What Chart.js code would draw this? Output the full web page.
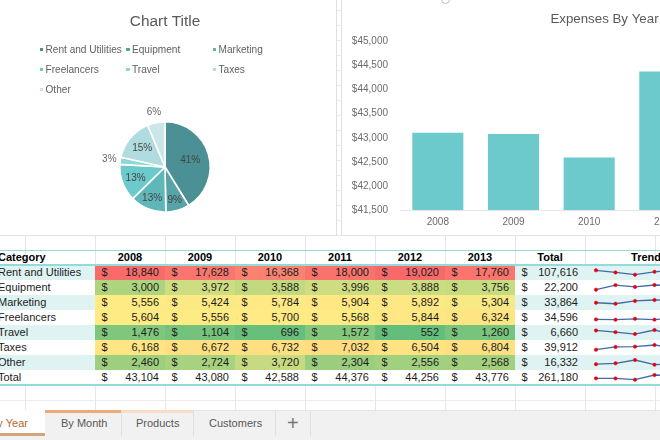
<!DOCTYPE html>
<html><head><meta charset="utf-8">
<script src="https://cdn.jsdelivr.net/npm/chart.js@4"></script>
<style>
html,body{margin:0;padding:0;width:660px;height:440px;overflow:hidden;font-family:"Liberation Sans",Arial,sans-serif}
body{position:relative;background-color:#fff;
 background-image:linear-gradient(to right,#e6e6e6 1px,transparent 1px),linear-gradient(to bottom,#ececec 1px,transparent 1px);
 background-size:70px 15px;background-position:25px 10px}
.abs{position:absolute}
.panel{position:absolute;background:#fff;border:1px solid #e0e0e0;box-sizing:border-box}
canvas{position:absolute;display:block}
.cell{position:absolute;height:15px;line-height:15px;font-size:11px;color:#1c1c1c;white-space:nowrap;box-sizing:border-box}
.head{font-weight:bold;text-align:center;color:#000;font-size:11px}
.teal{position:absolute;left:0;width:660px;height:1.5px;background:#93dadb}
.lg{position:absolute;font-size:10.1px;color:#606060;line-height:14px;white-space:nowrap}
.mk{position:absolute;width:3.5px;height:3.5px}
.tab{position:absolute;top:411px;height:25px;line-height:24px;font-size:11px;color:#585858;box-sizing:border-box;white-space:nowrap}
</style></head><body>
<div class="panel" style="left:-2px;top:-2px;width:339px;height:238px"></div>
<div class="panel" style="left:341px;top:-2px;width:340px;height:238px"></div>
<div class="abs" style="left:441px;top:-5px;width:7px;height:7px;border:1px solid #bbb;border-radius:50%;background:#fff"></div>
<canvas id="pie" width="330" height="235" style="left:0;top:0;width:330px;height:235px"></canvas>
<canvas id="bar" width="542" height="235" style="left:341px;top:0;width:542px;height:235px"></canvas>
<div id="legend"></div>
<div id="table"></div>
<div id="tabs"></div>
<script>
const years = ["2008","2009","2010","2011","2012","2013"];
const categories = ["Rent and Utilities","Equipment","Marketing","Freelancers","Travel","Taxes","Other"];
const rentAndUtilities = [18840,17628,16368,18000,19020,17760];
const equipment = [3000,3972,3588,3996,3888,3756];
const marketing = [5556,5424,5784,5904,5892,5304];
const freelancers = [5604,5556,5700,5568,5844,6324];
const travel = [1476,1104,696,1572,552,1260];
const taxes = [6168,6672,6732,7032,6504,6804];
const other = [2460,2724,3720,2304,2556,2568];
const yearTotals = [43104,43080,42588,44376,44256,43776];
const categoryTotals = [107616,22200,33864,34596,6660,39912,16332];
const piePercents = [41,9,13,13,3,15,6];
const grandTotal = 261180;
const tabNames = ["By Month","Products","Customers"];
const pieColors = ["#4b9094","#57a3a7","#5fb7ba","#6ccacc","#8fd6d8","#b1dcdf","#cae6e9"];
const barColor = "#6ccacc";

const rows = [rentAndUtilities,equipment,marketing,freelancers,travel,taxes,other];
const fmt = n => n.toLocaleString("en-US");

/* ---- pie ---- */
const pieLabels = {
  id:"pieLabels",
  afterDatasetsDraw(chart){
    const ctx = chart.ctx, ds = chart.data.datasets[0];
    const total = ds.data.reduce((a,b)=>a+b,0);
    ctx.save();
    ctx.font = '10px "Liberation Sans"';
    ctx.textAlign = "center"; ctx.textBaseline = "middle";
    chart.getDatasetMeta(0).data.forEach((arc,i)=>{
      const frac = ds.data[i]/total;
      const mid = (arc.startAngle+arc.endAngle)/2;
      const outside = frac<0.07;
      const k = frac>0.3 ? 0.58 : 0.66+0.1*Math.max(0,Math.sin(mid));
      const r = outside ? arc.outerRadius+11 : arc.outerRadius*k;
      ctx.fillStyle = outside ? "#666" : "#444";
      ctx.fillText(piePercents[i]+"%", arc.x+Math.cos(mid)*r, arc.y+Math.sin(mid)*r);
    });
    ctx.restore();
  }
};
new Chart(document.getElementById("pie"),{
  type:"pie",
  data:{labels:categories,datasets:[{data:categoryTotals,backgroundColor:pieColors,borderColor:"#fff",borderWidth:1.6}]},
  options:{responsive:false,animation:false,
    layout:{padding:{bottom:22}},
    plugins:{legend:{display:false},tooltip:{enabled:false},
      title:{display:true,text:"Chart Title",color:"#595959",font:{size:15.4,weight:"normal",family:'"Liberation Sans"'},padding:{top:12.5,bottom:90}}}},
  plugins:[pieLabels]
});

/* ---- legend ---- */
const legendEl = document.getElementById("legend");
categories.forEach((c,i)=>{
  const col = i%3, row = Math.floor(i/3);
  const x = [39.5,126,212.5][col], y = 49.5+row*20;
  legendEl.insertAdjacentHTML("beforeend",
   `<div class="mk" style="left:${x}px;top:${y-1.7}px;background:${pieColors[i]}"></div>`+
   `<div class="lg" style="left:${x+6}px;top:${y-7}px">${c}</div>`);
});

/* ---- bar ---- */
const titleShift = {
  id:"titleShift",
  afterLayout(chart){ chart.titleBlock.left += 14; }
};
new Chart(document.getElementById("bar"),{
  type:"bar",
  data:{labels:years,datasets:[{data:yearTotals,backgroundColor:barColor,barPercentage:0.675,categoryPercentage:1}]},
  options:{responsive:false,animation:false,
    layout:{padding:{right:29,left:0,top:0,bottom:0}},
    plugins:{legend:{display:false},tooltip:{enabled:false},
      title:{display:true,text:"Expenses By Year",color:"#595959",font:{size:13.3,weight:"normal",family:'"Liberation Sans"'},padding:{top:11,bottom:14.5}}},
    scales:{
      x:{grid:{display:false,drawTicks:false},border:{color:"#e6e6e6"},
        ticks:{color:"#6b6b6b",font:{size:10,family:'"Liberation Sans"'},padding:6,maxRotation:0},
        afterFit(s){s.height=25}},
      y:{min:41500,max:45000,grid:{display:false,drawTicks:false},border:{display:false},
        ticks:{stepSize:500,color:"#6b6b6b",font:{size:10,family:'"Liberation Sans"'},padding:12,
          callback:v=>"$"+fmt(v)},
        afterFit(s){s.width=59}}
    }
  },
  plugins:[titleShift]
});

/* ---- table ---- */
const tbl = document.getElementById("table");
const colX = [95,165,235,305,375,445];
function add(html){tbl.insertAdjacentHTML("beforeend",html)}
const sorted = rows.flat().sort((a,b)=>a-b);
const lo = sorted[0], hi = sorted[sorted.length-1];
const med = (sorted[20]+sorted[21])/2;
const mix=(a,b,t)=>a.map((v,i)=>Math.round(v+(b[i]-v)*t));
const GREEN=[99,190,123],YEL=[255,235,132],RED=[248,105,107];
function heat(v){const c = v<=med?mix(GREEN,YEL,(v-lo)/(med-lo)):mix(YEL,RED,(v-med)/(hi-med));return `rgb(${c})`}
const rowTop = i => 265+15*i;
for(let i=0;i<8;i++){
  const stripe = i%2===0 && i<7;
  add(`<div class="abs" style="left:0;top:${rowTop(i)}px;width:660px;height:15px;background:${stripe?"#e0f3f3":"#fff"}"></div>`);
}
add(`<div class="cell" style="left:-2px;top:250px;font-weight:bold;color:#000">Category</div>`);
years.forEach((y,j)=>add(`<div class="cell head" style="left:${colX[j]}px;top:250px;width:70px">${y}</div>`));
add(`<div class="cell head" style="left:515px;top:250px;width:70px">Total</div>`);
add(`<div class="cell head" style="left:585px;top:250px;width:122px">Trend</div>`);
function money(x,top,v,bg,rp){
  add(`<div class="cell" style="left:${x}px;top:${top}px;width:70px;${bg?`background:${bg};`:""}padding-left:6.5px">$</div>`);
  add(`<div class="cell" style="left:${x}px;top:${top}px;width:70px;text-align:right;padding-right:${rp}px">${fmt(v)}</div>`);
}
categories.forEach((c,i)=>{
  add(`<div class="cell" style="left:-2px;top:${rowTop(i)}px">${c}</div>`);
  rows[i].forEach((v,j)=>money(colX[j],rowTop(i),v,heat(v),6));
  money(515,rowTop(i),categoryTotals[i],null,7);
});
add(`<div class="cell" style="left:-2px;top:${rowTop(7)}px">Total</div>`);
yearTotals.forEach((v,j)=>money(colX[j],rowTop(7),v,null,6));
money(515,rowTop(7),grandTotal,null,7);
[249.5,264,384].forEach(y=>add(`<div class="teal" style="top:${y}px"></div>`));

/* ---- sparklines ---- */
[...rows,yearTotals].forEach((vals,i)=>{
  const cv=document.createElement("canvas");
  cv.width=110;cv.height=15;
  cv.style.cssText=`left:590px;top:${rowTop(i)}px;width:110px;height:15px`;
  tbl.appendChild(cv);
  new Chart(cv,{
    type:"line",
    data:{labels:years,datasets:[{data:vals,borderColor:"#3f6ca8",borderWidth:1.3,tension:0,clip:false,
      pointRadius:1.7,pointBackgroundColor:"#e60012",pointBorderColor:"#e60012",pointBorderWidth:0.5}]},
    options:{responsive:false,animation:false,
      layout:{padding:{left:6,right:6.5,top:5,bottom:5.3}},
      plugins:{legend:{display:false},tooltip:{enabled:false},title:{display:false}},
      scales:{x:{display:false},y:{display:false,min:Math.min(...vals),max:Math.max(...vals)}}}
  });
});

/* ---- tabs ---- */
const tabs=document.getElementById("tabs");
tabs.innerHTML=`<div class="abs" style="left:0;top:410px;width:660px;height:30px;background:#f1f1f1;border-top:1px solid #e4e4e4;box-sizing:border-box"></div>
<div class="abs" style="left:0;top:410px;width:45px;height:26px;background:#fff;border-bottom:3px solid #d2a67c;box-sizing:border-box"></div>
<div class="tab" style="left:-10px;color:#b8682a">By Year</div>
<div class="abs" style="left:45px;top:410px;width:76px;height:2.5px;background:#ecab74"></div>
<div class="abs" style="left:122px;top:410px;width:71px;height:2.5px;background:#f8dcc4"></div>
<div class="tab" style="left:61px">${tabNames[0]}</div>
<div class="tab" style="left:136px">${tabNames[1]}</div>
<div class="tab" style="left:209px">${tabNames[2]}</div>
<div class="tab" style="left:287px;font-size:20px;font-weight:normal;color:#777;line-height:24px">+</div>
${[121,193,275,310].map(x=>`<div class="abs" style="left:${x}px;top:411px;width:1px;height:25px;background:#e0e0e0"></div>`).join("")}`;
</script>
</body></html>
